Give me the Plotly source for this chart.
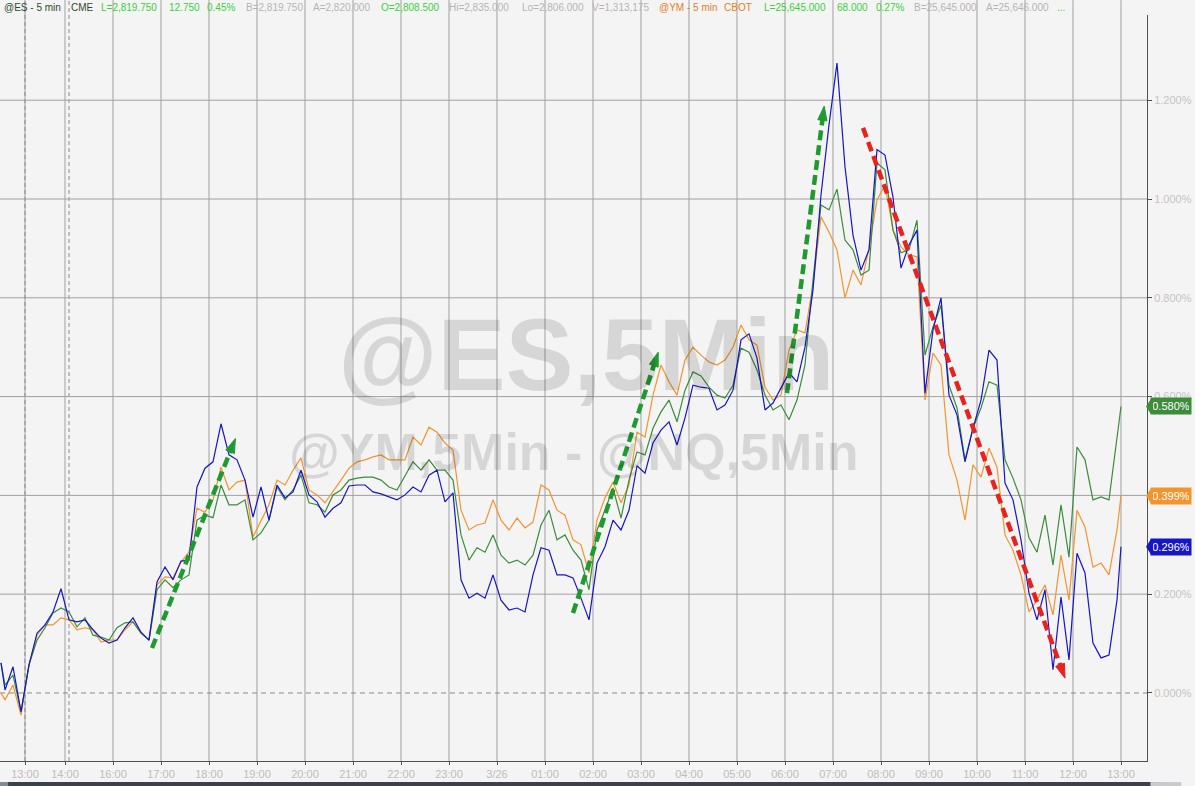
import plotly.graph_objects as go

# ---------------- data ----------------
# bar index of each sample (5-minute bars; 17:00 = bar 40, one hour = 12 bars)
bars = [0] + list(range(1, 280, 2)) + [280]

# % change, @NQ (blue)
NQ = [0.061, 0.006, 0.053, -0.038, 0.057, 0.121, 0.138, 0.164, 0.211, 0.148,
      0.144, 0.148, 0.128, 0.111, 0.101, 0.107, 0.132, 0.152, 0.123, 0.107,
      0.225, 0.255, 0.229, 0.267, 0.269, 0.417, 0.455, 0.468, 0.545, 0.482,
      0.472, 0.431, 0.356, 0.417, 0.350, 0.421, 0.395, 0.407, 0.451, 0.401,
      0.387, 0.356, 0.374, 0.385, 0.419, 0.421, 0.421, 0.407, 0.403, 0.397,
      0.391, 0.401, 0.417, 0.407, 0.441, 0.451, 0.387, 0.405, 0.229, 0.192,
      0.202, 0.192, 0.239, 0.188, 0.168, 0.172, 0.164, 0.239, 0.294, 0.289,
      0.239, 0.239, 0.233, 0.192, 0.148, 0.263, 0.296, 0.350, 0.330, 0.370,
      0.460, 0.445, 0.506, 0.532, 0.549, 0.502, 0.557, 0.623, 0.619, 0.617,
      0.573, 0.583, 0.613, 0.715, 0.727, 0.678, 0.573, 0.587, 0.617, 0.648,
      0.630, 0.700, 0.816, 1.008, 1.150, 1.275, 1.065, 0.927, 0.856, 0.897,
      1.100, 1.089, 1.004, 0.860, 0.907, 0.937, 0.607, 0.735, 0.800, 0.603,
      0.563, 0.468, 0.536, 0.593, 0.694, 0.674, 0.425, 0.391, 0.310, 0.202,
      0.148, 0.209, 0.047, 0.194, 0.067, 0.283, 0.243, 0.101, 0.071, 0.077,
      0.188, 0.296]

# % change, @ES (green)
ES = [0.061, 0.016, 0.036, -0.038, 0.057, 0.107, 0.132, 0.162, 0.172, 0.164,
      0.134, 0.152, 0.117, 0.113, 0.107, 0.132, 0.142, 0.144, 0.121, 0.107,
      0.209, 0.229, 0.213, 0.229, 0.239, 0.350, 0.360, 0.355, 0.421, 0.381,
      0.381, 0.391, 0.310, 0.324, 0.350, 0.417, 0.391, 0.411, 0.441, 0.385,
      0.381, 0.366, 0.401, 0.411, 0.431, 0.435, 0.437, 0.437, 0.431, 0.417,
      0.411, 0.441, 0.468, 0.451, 0.472, 0.451, 0.451, 0.431, 0.320, 0.269,
      0.294, 0.285, 0.320, 0.279, 0.263, 0.269, 0.259, 0.279, 0.340, 0.370,
      0.310, 0.320, 0.289, 0.269, 0.209, 0.330, 0.370, 0.415, 0.354, 0.431,
      0.488, 0.482, 0.536, 0.569, 0.593, 0.549, 0.613, 0.650, 0.642, 0.619,
      0.603, 0.597, 0.623, 0.698, 0.690, 0.654, 0.603, 0.573, 0.583, 0.553,
      0.593, 0.664, 0.836, 0.988, 0.978, 1.020, 0.917, 0.897, 0.846, 0.856,
      1.073, 1.059, 0.937, 0.891, 0.897, 0.957, 0.684, 0.741, 0.785, 0.623,
      0.577, 0.472, 0.536, 0.577, 0.630, 0.623, 0.472, 0.435, 0.391, 0.314,
      0.285, 0.360, 0.259, 0.381, 0.275, 0.498, 0.472, 0.391, 0.397, 0.391,
      0.512, 0.580]

# % change, @YM (orange)
YM = [0.000, -0.014, 0.016, -0.045, 0.057, 0.117, 0.138, 0.138, 0.152, 0.148,
      0.128, 0.132, 0.128, 0.103, 0.107, 0.107, 0.128, 0.144, 0.121, 0.107,
      0.219, 0.235, 0.233, 0.265, 0.285, 0.374, 0.366, 0.391, 0.457, 0.411,
      0.427, 0.431, 0.316, 0.350, 0.381, 0.431, 0.421, 0.451, 0.476, 0.411,
      0.401, 0.385, 0.407, 0.431, 0.455, 0.468, 0.472, 0.478, 0.482, 0.472,
      0.472, 0.472, 0.518, 0.502, 0.538, 0.528, 0.506, 0.492, 0.370, 0.330,
      0.340, 0.344, 0.391, 0.350, 0.330, 0.354, 0.334, 0.346, 0.421, 0.411,
      0.370, 0.360, 0.310, 0.300, 0.243, 0.350, 0.395, 0.427, 0.385, 0.421,
      0.528, 0.518, 0.603, 0.664, 0.630, 0.603, 0.674, 0.700, 0.684, 0.670,
      0.664, 0.674, 0.700, 0.745, 0.715, 0.704, 0.619, 0.593, 0.603, 0.694,
      0.735, 0.729, 0.826, 0.964, 0.933, 0.897, 0.800, 0.856, 0.826, 0.900,
      0.998, 1.028, 0.937, 0.903, 0.887, 0.883, 0.593, 0.688, 0.664, 0.482,
      0.431, 0.350, 0.462, 0.437, 0.496, 0.457, 0.320, 0.289, 0.239, 0.164,
      0.188, 0.219, 0.158, 0.279, 0.188, 0.370, 0.336, 0.255, 0.263, 0.239,
      0.330, 0.399]

tick_bars = [6, 16, 28, 40, 52, 64, 76, 88, 100, 112, 124, 136, 148, 160,
             172, 184, 196, 208, 220, 232, 244, 256, 268, 280]
tick_text = ["13:00", "14:00", "16:00", "17:00", "18:00", "19:00", "20:00",
             "21:00", "22:00", "23:00", "3/26", "01:00", "02:00", "03:00",
             "04:00", "05:00", "06:00", "07:00", "08:00", "09:00", "10:00",
             "11:00", "12:00", "13:00"]
dashed_bars = [6, 17]
y_ticks = [0.0, 0.2, 0.4, 0.6, 0.8, 1.0, 1.2]

# trend arrows: (bar start, bar end), (% start, % end)
arrow_up1 = ([37.75, 58.6], [0.091, 0.515])
arrow_up2 = ([143.0, 164.3], [0.162, 0.690])
arrow_up3 = ([196.5, 205.8], [0.607, 1.188])
arrow_dn = ([215.5, 266.0], [1.144, 0.030])

BLUE = "#1616c8"
GREEN = "#3c8c3c"
ORANGE = "#f2952f"
BG = "#f4f4f4"
FONT = "Liberation Sans, Arial, sans-serif"

fig = go.Figure()

for name, vals, col in [("@YM", YM, ORANGE), ("@ES", ES, GREEN), ("@NQ", NQ, BLUE)]:
    fig.add_trace(go.Scatter(x=bars, y=vals, mode="lines", name=name,
                             line=dict(color=col, width=1.2), hoverinfo="skip"))

for (ax, ay), col in [(arrow_up1, "#1f9a30"), (arrow_up2, "#1f9a30"),
                      (arrow_up3, "#1f9a30"), (arrow_dn, "#e8221e")]:
    fig.add_trace(go.Scatter(
        x=ax, y=ay, mode="lines+markers",
        line=dict(color=col, width=4.5, dash="10px,5px"),
        marker=dict(symbol=["circle", "arrow"], size=[0, 15], color=col, opacity=1,
                    angleref="previous", line=dict(width=1, color=col)),
        hoverinfo="skip"))

shapes = []
for b in tick_bars:
    shapes.append(dict(type="line", xref="x", yref="paper", x0=b, x1=b, y0=0, y1=1.02,
                       line=dict(color="#a0a0a0", width=1), layer="below"))
for b in dashed_bars:
    shapes.append(dict(type="line", xref="x", yref="paper", x0=b, x1=b, y0=0, y1=1.02,
                       line=dict(color="#8a8a8a", width=1, dash="4px,3px"), layer="below"))
for v in y_ticks:
    shapes.append(dict(type="line", xref="paper", yref="y", x0=0, x1=1, y0=v, y1=v,
                       line=dict(color="#a0a0a0" if v else "#8a8a8a", width=1,
                                 dash="solid" if v else "5px,4px"),
                       layer="below"))
# bottom scrollbar
shapes.append(dict(type="rect", xref="paper", yref="paper", x0=0.007, x1=1.013,
                   y0=-0.0336, y1=-0.0282, fillcolor="#3b424b", line=dict(width=0)))
shapes.append(dict(type="rect", xref="paper", yref="paper", x0=0, x1=0.007,
                   y0=-0.0336, y1=-0.0282, fillcolor="#7f8b97", line=dict(width=0)))
shapes.append(dict(type="rect", xref="paper", yref="paper", x0=1.003, x1=1.03,
                   y0=-0.0336, y1=-0.0282, fillcolor="#c6cbd0", line=dict(width=0)))

annotations = []
# watermark
annotations.append(dict(text="<b>@ES,5Min</b>", xref="paper", yref="paper", x=0.511, y=0.544,
                        showarrow=False, font=dict(family=FONT, size=102, color="rgba(0,0,0,0.12)")))
annotations.append(dict(text="<b>@YM,5Min - @NQ,5Min</b>", xref="paper", yref="paper",
                        x=0.5004, y=0.4142, showarrow=False,
                        font=dict(family=FONT, size=52, color="rgba(0,0,0,0.12)")))

# header
header = [(2, "@ES - 5 min", "#2d4a2d"), (69, "CME", "#2d4a2d"),
          (99, "L=2,819.750", "#3ad13a"), (167, "12.750", "#3ad13a"), (205, "0.45%", "#3ad13a"),
          (244, "B=2,819.750", "#b4b4b4"), (311, "A=2,820.000", "#b4b4b4"),
          (379, "O=2,808.500", "#3ad13a"), (447, "Hi=2,835.000", "#b4b4b4"),
          (520, "Lo=2,806.000", "#b4b4b4"), (590, "V=1,313,175", "#b4b4b4"),
          (657, "@YM - 5 min", "#e3801f"), (722, "CBOT", "#e3801f"),
          (762, "L=25,645.000", "#3ad13a"), (835, "68.000", "#3ad13a"), (874, "0.27%", "#3ad13a"),
          (912, "B=25,645.000", "#b4b4b4"), (984, "A=25,646.000", "#b4b4b4"),
          (1055, "...", "#3ad13a")]
for px, t, c in header:
    annotations.append(dict(text=t, xref="paper", yref="paper", x=px / 1147, y=1.0107,
                            xanchor="left", yanchor="middle", showarrow=False,
                            font=dict(family=FONT, size=10, color=c)))

# last value badges
for vals, col in [(ES, GREEN), (YM, ORANGE), (NQ, BLUE)]:
    annotations.append(dict(text=f"{vals[-1]:.3f}%", xref="paper", yref="y",
                            x=1150 / 1147, y=vals[-1], xanchor="left", yanchor="middle",
                            showarrow=False, bgcolor=col, borderpad=2, width=36,
                            font=dict(family=FONT, size=11, color="white")))
    shapes.append(dict(type="path", xref="paper", yref="y",
                       path=f"M {1146/1147} {vals[-1]} L {1151/1147} {vals[-1]+0.0155} "
                            f"L {1151/1147} {vals[-1]-0.0155} Z",
                       fillcolor=col, line=dict(width=0)))

fig.update_layout(
    width=1195, height=786,
    margin=dict(l=0, r=48, t=15, b=25),
    paper_bgcolor=BG, plot_bgcolor=BG,
    showlegend=False,
    font=dict(family=FONT),
    shapes=shapes, annotations=annotations,
    xaxis=dict(range=[-0.25, 286.5], tickvals=tick_bars, ticktext=tick_text,
               showgrid=False, zeroline=False, showline=True, linecolor="#505050",
               linewidth=1, ticks="outside", ticklen=3, tickcolor="#505050",
               tickfont=dict(family=FONT, size=11, color="#bdbdbd")),
    yaxis=dict(range=[-0.1377, 1.3725], side="right", tickvals=y_ticks,
               ticktext=[f"{v:.3f}%" for v in y_ticks],
               showgrid=False, zeroline=False, showline=True, linecolor="#505050",
               linewidth=1, ticks="outside", ticklen=4, tickcolor="#505050",
               tickfont=dict(family=FONT, size=11, color="#c4c4c4")),
)

fig.write_html("out.html", config={"displayModeBar": False},
               post_script="document.body.style.margin='0';document.body.style.overflow='hidden';")
